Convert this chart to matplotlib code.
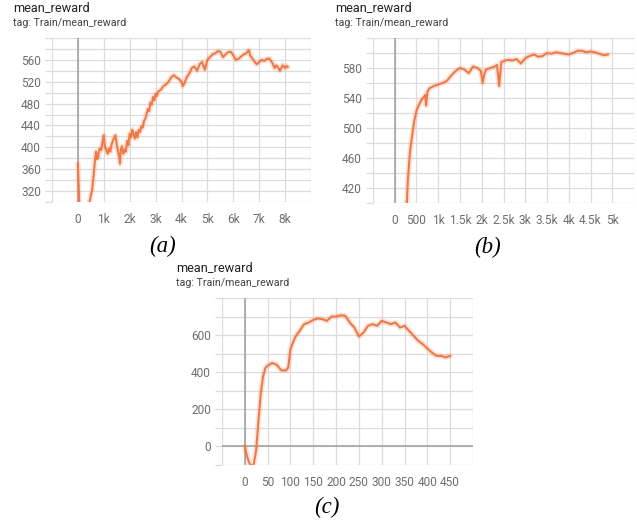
import numpy as np
import matplotlib
matplotlib.use("Agg")
import matplotlib.pyplot as plt

plt.rcParams['font.family'] = ['Roboto', 'DejaVu Sans']

LINE_COLOR = '#ef7a48'
GRID_COLOR = '#dcdcdc'
ZERO_COLOR = '#9e9e9e'
TICK_COLOR = '#6e6e6e'

# (a) training run, ~8k steps
a_steps = [0, 50, 100, 200, 300, 400, 450, 500, 550, 600, 650, 700, 725, 750, 775, 800, 850, 900, 950,
           1000, 1025, 1050, 1100, 1150, 1200, 1250, 1300, 1350, 1400, 1450, 1500, 1550, 1600, 1625,
           1650, 1700, 1750, 1800, 1850, 1900, 1950, 2000, 2050, 2100, 2150, 2200, 2250, 2300, 2350,
           2400, 2450, 2500, 2550, 2600, 2650, 2700, 2750, 2800, 2850, 2900, 2950, 3000, 3050, 3100,
           3200, 3300, 3400, 3500, 3600, 3700, 3800, 3900, 4000, 4050, 4100, 4200, 4300, 4400, 4500,
           4600, 4700, 4800, 4850, 4900, 5000, 5100, 5200, 5300, 5400, 5500, 5600, 5700, 5800, 5900,
           6000, 6100, 6200, 6300, 6400, 6500, 6600, 6650, 6700, 6800, 6900, 7000, 7100, 7200, 7300,
           7400, 7500, 7600, 7650, 7700, 7800, 7900, 8000, 8050, 8100]
a_reward = [370, 300, 260, 240, 250, 285, 300, 312, 322, 345, 372, 392, 378, 388, 380, 390, 398, 395, 410,
            422, 408, 400, 395, 388, 398, 392, 405, 412, 418, 422, 405, 392, 380, 370,
            395, 402, 388, 396, 392, 412, 404, 425, 418, 432, 424, 416, 428, 418, 432,
            428, 438, 436, 448, 452, 460, 470, 466, 482, 478, 492, 486, 498, 494, 502,
            505, 512, 515, 520, 528, 532, 528, 525, 520, 512, 516, 528, 535, 545, 548,
            540, 552, 556, 548, 542, 560, 565, 570, 572, 576, 575, 565, 570, 574, 575,
            568, 560, 562, 566, 570, 572, 578, 568, 565, 558, 552, 556, 560, 558, 562,
            562, 555, 545, 550, 548, 540, 550, 545, 549, 547]

# (b) training run, ~5k steps
b_steps = [250, 300, 350, 400, 450, 500, 550, 600, 650, 700, 720, 750, 800, 900, 1000, 1100,
           1200, 1300, 1400, 1500, 1600, 1700, 1800, 1900, 1980, 2020, 2060, 2100, 2200, 2300,
           2350, 2400, 2450, 2500, 2600, 2700, 2800, 2900, 3000, 3100, 3200, 3300, 3400, 3500,
           3600, 3700, 3800, 3900, 4000, 4100, 4200, 4300, 4400, 4500, 4600, 4700, 4800, 4900]
b_reward = [360, 430, 468, 490, 510, 523, 530, 536, 540, 544, 530, 548, 553, 556, 558, 560,
            563, 570, 576, 580, 578, 573, 582, 580, 576, 560, 572, 578, 580, 582,
            584, 556, 588, 589, 591, 590, 592, 586, 593, 596, 598, 595, 596, 600,
            599, 601, 600, 599, 598, 600, 603, 603, 601, 602, 601, 599, 597, 598]

# (c) training run, ~450 steps
c_steps = [0, 5, 10, 15, 20, 25, 30, 35, 40, 45, 50, 60, 70, 80, 90, 95, 100, 110, 120, 130,
           140, 150, 160, 170, 180, 190, 200, 210, 220, 230, 240, 250, 260, 270, 280, 290,
           300, 310, 320, 330, 340, 350, 360, 370, 380, 390, 400, 410, 420, 430, 440, 450]
c_reward = [0, -54, -90, -110, -90, -18, 143, 287, 377, 422, 435, 450, 440, 410, 410, 425,
            525, 587, 623, 659, 668, 682, 690, 686, 677, 700, 700, 707, 704, 668, 641, 593,
            614, 650, 659, 650, 677, 668, 659, 668, 641, 650, 623, 596, 569, 551, 528, 506,
            488, 488, 480, 488]


def fmt_k(v):
    if v == 0:
        return '0'
    if v % 1000 == 0:
        return '%dk' % (v // 1000)
    if v >= 1000:
        return '%gk' % (v / 1000)
    return '%d' % v


def draw_panel(fig, rect, steps, values, xlim, xstep, xlabels, ylim, ystep, ylabels,
               zero_h=False, caption='', cap_xy=(0, 0), title_xy=(0, 0)):
    ax = fig.add_axes(rect)
    ax.plot(steps, values, color=LINE_COLOR, lw=4, alpha=0.2, solid_capstyle='round')
    ax.plot(steps, values, color=LINE_COLOR, lw=1.5)
    ax.set_xlim(*xlim)
    ax.set_ylim(*ylim)

    xt = np.arange(xlim[0], xlim[1] + 1, xstep)
    yt = np.arange(ylim[0], ylim[1] + 1, ystep)
    ax.set_xticks(xt)
    ax.set_xticklabels([fmt_k(v) if v in xlabels else '' for v in xt])
    ax.set_yticks(yt)
    ax.set_yticklabels(['%d' % v if v in ylabels else '' for v in yt])
    ax.tick_params(labelsize=8.6, labelcolor=TICK_COLOR, color=GRID_COLOR, width=0.9)
    ax.tick_params(axis='x', length=0, pad=8)
    ax.tick_params(axis='y', length=5, pad=3)
    ax.grid(True, color=GRID_COLOR, lw=0.9)
    ax.set_axisbelow(True)
    for s in ax.spines.values():
        s.set_visible(False)
    ax.axvline(0, color=ZERO_COLOR, lw=1.1, zorder=1)
    if zero_h:
        ax.axhline(0, color=ZERO_COLOR, lw=1.1, zorder=1)

    fig.text(title_xy[0] / 637, 1 - title_xy[1] / 523, 'mean_reward', fontsize=9.2,
             color='#212121', va='center')
    fig.text(title_xy[0] / 637, 1 - (title_xy[1] + 15) / 523, 'tag: Train/mean_reward',
             fontsize=7.7, color='#424242', va='center')
    fig.text(cap_xy[0] / 637, 1 - cap_xy[1] / 523, caption, fontsize=16.5, style='italic',
             family='Liberation Serif', ha='center', va='center')
    return ax


fig = plt.figure(figsize=(6.37, 5.23), dpi=100)

draw_panel(fig, [52 / 637, 1 - 202 / 523, 259 / 637, 164 / 523], a_steps, a_reward,
           (-1000, 9000), 1000, list(range(0, 8001, 1000)),
           (300, 600), 20, list(range(320, 561, 40)),
           caption='(a)', cap_xy=(163, 246), title_xy=(13, 8))

draw_panel(fig, [373 / 637, 1 - 203 / 523, 261 / 637, 165 / 523], b_steps, b_reward,
           (-500, 5500), 500, list(range(0, 5001, 500)),
           (400, 620), 20, list(range(420, 581, 40)),
           caption='(b)', cap_xy=(488, 247), title_xy=(335, 8))

draw_panel(fig, [222 / 637, 1 - 465 / 523, 251 / 637, 167 / 523], c_steps, c_reward,
           (-50, 500), 50, list(range(0, 451, 50)),
           (-100, 800), 100, [0, 200, 400, 600],
           zero_h=True, caption='(c)', cap_xy=(327, 507), title_xy=(176, 268))

fig.savefig('out.png', dpi=100)
